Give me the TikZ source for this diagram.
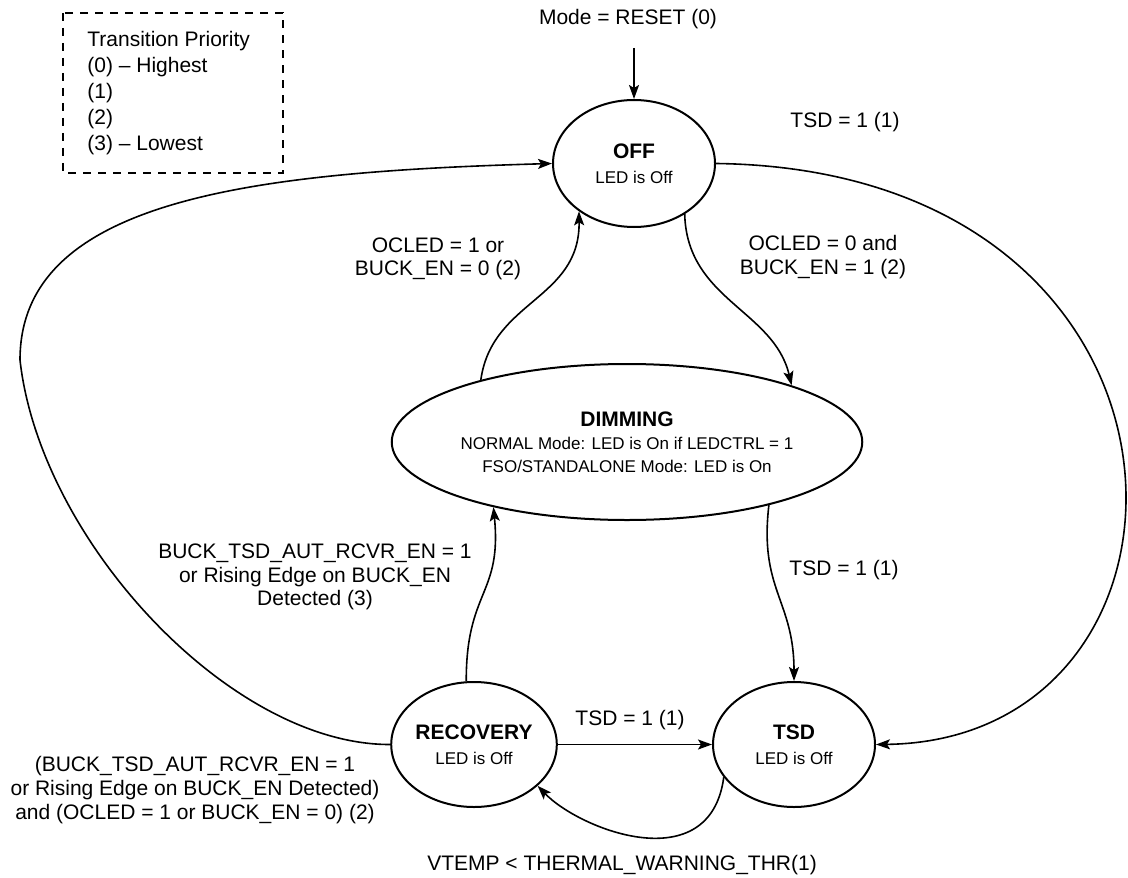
\documentclass[tikz,border=0pt]{standalone}
\usepackage{fontspec}
\setmainfont{Liberation Sans}
\usetikzlibrary{shapes.geometric,arrows.meta}
\begin{document}
\begin{tikzpicture}[x=0.5pt,y=-0.5pt,
  state/.style={draw, ellipse, line width=1pt, inner sep=0pt, align=center,
                font=\fontsize{8.5}{11.5}\selectfont},
  lbl/.style={align=center, inner sep=0pt, font=\fontsize{10.5}{11.8}\selectfont},
  conn/.style={line width=0.8pt, -{Stealth[length=7pt,width=5pt,inset=1.5pt]}},
  legendbox/.style={draw, line width=0.75pt, dash pattern=on 4pt off 3.5pt}]
\useasboundingbox (0,0) rectangle (1128,877);

% legend
\draw[legendbox] (63,13) rectangle (283,173);
\node[anchor=west, align=left, inner sep=0pt, font=\fontsize{10.5}{13.1}\selectfont] (legend) at (87,93)
  {Transition Priority\\(0) -- Highest\\(1)\\(2)\\(3) -- Lowest};

% states
\node[state, minimum width=81pt, minimum height=63.5pt] (off) at (634,163.5)
  {{\fontsize{10.5}{12.5}\selectfont\bfseries OFF}\\[1pt]LED is Off};
\node[state, minimum width=190pt, minimum height=78pt] (dim) at (627,442)
  {{\fontsize{10.5}{12}\selectfont\bfseries DIMMING}\\NORMAL Mode: LED is On if LEDCTRL = 1\\FSO/STANDALONE Mode: LED is On};
\node[state, minimum width=81pt, minimum height=62.5pt] (rec) at (474,744.5)
  {{\fontsize{10.5}{12.5}\selectfont\bfseries RECOVERY}\\[1pt]LED is Off};
\node[state, minimum width=81pt, minimum height=62.5pt] (tsd) at (794,744.5)
  {{\fontsize{10.5}{12.5}\selectfont\bfseries TSD}\\[1pt]LED is Off};

% reset
\node[lbl] (reset) at (628,19) {Mode = RESET (0)};
\coordinate (resetend) at (634,48);
\draw[conn] (resetend) -- (off.north);

% transitions
\draw[conn] (off.-45) .. controls (687,300) and (774,310) .. (dim.19);
\draw[conn] (dim.157) .. controls (492,300) and (580,300) .. (off.221);
\draw[conn] (dim.-24) .. controls (759,590) and (794,600) .. (tsd.north);
\draw[conn] (rec.97) .. controls (466,590) and (502,595) .. (dim.206);
\draw[conn] (rec.east) -- (tsd.west);
\draw[conn] (tsd.205) .. controls (710,880) and (580,830) .. (rec.-33);
\draw[conn] (off.east) .. controls (1230,170) and (1230,740) .. (tsd.east);
\draw[conn] (rec.west) .. controls (230,745) and (40,540) .. (20,360)
  .. controls (20,200) and (250,172) .. (off.west);

% labels
\node[lbl] (l1) at (845,122) {TSD = 1 (1)};
\node[lbl] (l2) at (823,257) {OCLED = 0 and\\BUCK\_EN = 1 (2)};
\node[lbl] (l3) at (438,259) {OCLED = 1 or\\BUCK\_EN = 0 (2)};
\node[lbl] (l4) at (844,570) {TSD = 1 (1)};
\node[lbl] (l5) at (315,577) {BUCK\_TSD\_AUT\_RCVR\_EN = 1\\or Rising Edge on BUCK\_EN\\Detected (3)};
\node[lbl] (l6) at (630,720) {TSD = 1 (1)};
\node[lbl] (l7) at (195,790) {(BUCK\_TSD\_AUT\_RCVR\_EN = 1\\or Rising Edge on BUCK\_EN Detected)\\and (OCLED = 1 or BUCK\_EN = 0) (2)};
\node[lbl] (l8) at (622,865) {VTEMP < THERMAL\_WARNING\_THR(1)};
\end{tikzpicture}
\end{document}
